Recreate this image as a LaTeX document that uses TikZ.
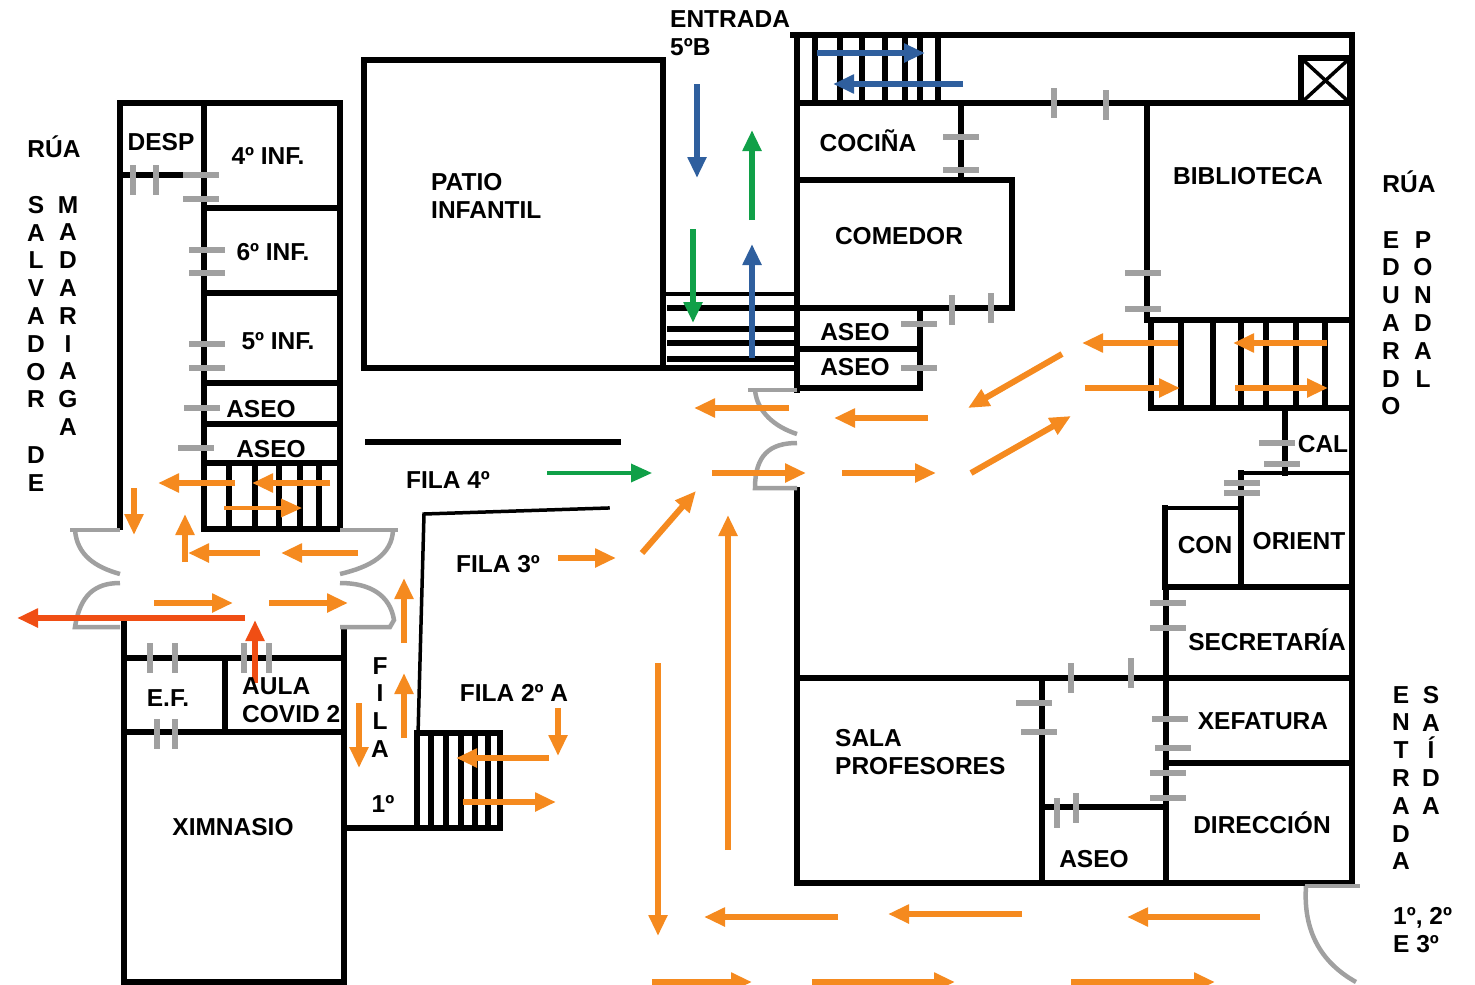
\documentclass[tikz,border=0pt]{standalone}
\usepackage{fontspec}
\setmainfont{Liberation Sans}
\usetikzlibrary{arrows.meta}
\definecolor{flowOrange}{HTML}{F58A1F}
\definecolor{flowRed}{HTML}{F04E14}
\definecolor{flowBlue}{HTML}{2F5F9E}
\definecolor{flowGreen}{HTML}{10A048}
\definecolor{doorGray}{HTML}{A0A0A0}
\tikzset{
x=1pt, y=-1pt, % one unit is one pixel of the plan
wall/.style={line width=5.5pt, line cap=rect}, % sets the main walls
thinwall/.style={line width=3.5pt, line cap=rect}, % sets the lighter walls and stair bars
stub/.style={line width=6pt, doorGray}, % sets the short door marks
swing/.style={line width=4.5pt, doorGray}, % sets the curved door leaves
flow/.style={line width=6pt, flowOrange, -{Triangle[length=21pt,width=18pt]}}, % sets the route arrows
flowthin/.style={flow, line width=3.5pt},
room/.style={font=\bfseries\fontsize{24.5}{28}\selectfont, inner sep=0pt, align=center},
roomleft/.style={room, align=left, anchor=west},
column/.style={font=\bfseries\fontsize{24.5}{27.8}\selectfont, inner sep=0pt, align=center, anchor=north},
}
\begin{document}
\begin{tikzpicture}
    \useasboundingbox (0,0) rectangle (1475,985);

    % left block
    \draw[wall] (120,527) -- (120,103) -- (340,103) -- (340,529);
    \draw[wall] (204,103) -- (204,529) -- (340,529);
    \draw[wall] (120,175) -- (204,175);
    \foreach \y in {208,293,383,424,463}
        \draw[wall] (204,\y) -- (340,\y);
    \foreach \x in {229,255,279,300,319}
        \draw[wall] (\x,463) -- (\x,529);

    % lower left block
    \draw[wall] (124,622) -- (124,982) -- (344,982) -- (344,632);
    \draw[wall] (124,658) -- (344,658);
    \draw[wall] (124,732) -- (344,732);
    \draw[wall] (225,658) -- (225,732);
    \draw[wall] (344,828) -- (417,828);
    \draw[wall] (417,733) -- (500,733) -- (500,828) -- (417,828) -- cycle;
    \foreach \x in {431,446,461,475,488}
        \draw[wall] (\x,733) -- (\x,828);
    \draw[thinwall] (608,508) -- (424,514) -- (418,735);
    \draw[wall] (368,442) -- (618,442);

    % patio and central stairs
    \draw[wall] (364,60) rectangle (663,368);
    \draw[wall] (663,368) -- (797,368);
    \draw[thinwall] (663,294) -- (797,294);
    \foreach \y in {308,343}
        \draw[wall] (670,\y) -- (797,\y);
    \foreach \y in {329,359}
        \draw[wall] (670,\y) -- (797,\y);

    % top right block
    \draw[wall] (793,35) -- (1352,35) -- (1352,883);
    \draw[wall] (797,35) -- (797,390);
    \draw[wall] (797,103) -- (1352,103);
    \foreach \x in {815,840,862,885,905,920,938}
        \draw[wall] (\x,38) -- (\x,103);
    \draw[wall] (1301,58) rectangle (1350,103);
    \draw[thinwall] (1301,58) -- (1350,103);
    \draw[thinwall] (1350,58) -- (1301,103);
    \draw[wall] (961,103) -- (961,180);
    \draw[wall] (797,180) -- (1012,180) -- (1012,308) -- (797,308);
    \draw[wall] (920,308) -- (920,388) -- (797,388);
    \draw[wall] (797,349) -- (920,349);

    % right stairs and small rooms
    \draw[wall] (1147,103) -- (1147,320) -- (1352,320);
    \draw[wall] (1151,320) -- (1151,408) -- (1352,408);
    \foreach \x in {1181,1213,1241,1266,1296,1325}
        \draw[wall] (\x,320) -- (\x,408);
    \draw[wall] (1285,408) -- (1285,473);
    \draw[thinwall] (1241,473) -- (1352,473);
    \draw[wall] (1241,473) -- (1241,587);
    \draw[thinwall] (1165,508) -- (1241,508);
    \draw[wall] (1165,508) -- (1165,587) -- (1352,587);

    % bottom right block
    \draw[wall] (797,490) -- (797,883) -- (1352,883);
    \draw[wall] (797,678) -- (1352,678);
    \draw[wall] (1042,678) -- (1042,883);
    \draw[wall] (1166,587) -- (1166,883);
    \draw[wall] (1042,807) -- (1166,807);
    \draw[wall] (1166,763) -- (1352,763);

    % door marks
    \foreach \x/\y in {201/175,201/199,207/250,207/273,207/344,207/368,202/408,196/448,
        961/137,961/170,919/324,919/368,1143/273,1143/309,1277/443,1282/464,1242/483,1242/493,
        1168/603,1168/628,1170/719,1173/748,1168/773,1168/798,1034/703,1039/732}
        \draw[stub] (\x-18,\y) -- (\x+18,\y);
    \foreach \x/\y in {133/180,156/180,150/658,175/658,244/658,269/658,157/734,175/734,
        952/310,991/308,1054/103,1106/105,1071/678,1131/673,1057/813,1076/808}
        \draw[stub] (\x,\y-15) -- (\x,\y+15);

    % door leaves
    \draw[swing] (120,530) -- (70,530);
    \draw[swing] (75,530) .. controls (77,555) and (95,567) .. (120,574);
    \draw[swing] (120,583) .. controls (95,583) and (80,595) .. (75,627) -- (120,627);
    \draw[swing] (340,530) -- (398,530);
    \draw[swing] (393,530) .. controls (392,555) and (370,567) .. (340,574);
    \draw[swing] (340,583) .. controls (370,583) and (390,595) .. (394,620) -- (390,627) -- (340,627);
    \draw[swing] (748,390) -- (797,390);
    \draw[swing] (755,390) .. controls (757,412) and (775,427) .. (797,434);
    \draw[swing] (797,443) .. controls (770,443) and (755,455) .. (755,488) -- (797,488);
    \draw[swing] (1305,886) -- (1360,886);
    \draw[swing] (1306,886) .. controls (1303,930) and (1320,962) .. (1356,982);

    % route arrows
    \foreach \a/\b/\c/\d in {235/483/158/483,330/483/252/483,134/488/134/535,185/562/185/514,
        260/553/188/553,358/553/281/553,154/603/233/603,269/603/348/603,
        404/643/404/578,404/738/404/673,359/703/359/768,558/708/558/756,549/758/456/758,
        463/802/556/802,558/558/616/558,642/553/696/491,712/473/806/473,842/473/936/473,
        789/408/694/408,928/418/834/418,1062/354/968/408,971/473/1071/416,
        1178/343/1082/343,1085/388/1180/388,1327/343/1233/343,1235/388/1328/388,
        728/850/728/515,658/663/658/936,838/917/704/917,1022/914/888/914,1260/917/1127/917,
        652/982/752/982,812/982/955/982,1071/982/1215/982}
        \draw[flow] (\a,\b) -- (\c,\d);
    \draw[flowthin] (224,508) -- (302,508);
    \draw[flow, flowRed] (245,618) -- (17,618);
    \draw[flow, flowRed] (255,683) -- (255,620);
    \foreach \a/\b/\c/\d in {817/53/925/53,963/84/833/84,697/84/697/178,752/358/752/244}
        \draw[flow, flowBlue] (\a,\b) -- (\c,\d);
    \foreach \a/\b/\c/\d in {752/220/752/130,693/229/693/323}
        \draw[flow, flowGreen] (\a,\b) -- (\c,\d);
    \draw[flowthin, flowGreen] (547,473) -- (652,473);

    % streets and entrances
    \node[roomleft] (entrada) at (670,33) {ENTRADA\\5ºB};
    \node[room] (ruaLeft) at (54,147) {RÚA};
    \node[column] (salvador) at (36,196) {S\\A\\L\\V\\A\\D\\O\\R\\~\\D\\E};
    \node[column] (madariaga) at (68,196) {M\\A\\D\\A\\R\\I\\A\\G\\A};
    \node[room] (ruaRight) at (1409,182) {RÚA};
    \node[column] (eduardo) at (1391,231) {E\\D\\U\\A\\R\\D\\O};
    \node[column] (pondal) at (1423,231) {P\\O\\N\\D\\A\\L};
    \node[column] (entradaCol) at (1401,686) {E\\N\\T\\R\\A\\D\\A};
    \node[column] (saida) at (1431,686) {S\\A\\Í\\D\\A};
    \node[roomleft] (cursos) at (1393,930) {1º, 2º\\E 3º};

    % rooms
    \node[room] (desp) at (161,142) {DESP};
    \node[room] (inf4) at (268,156) {4º INF.};
    \node[room] (inf6) at (273,252) {6º INF.};
    \node[room] (inf5) at (278,341) {5º INF.};
    \node[room] (aseoA) at (261,409) {ASEO};
    \node[room] (aseoB) at (271,449) {ASEO};
    \node[room] (ef) at (168,698) {E.F.};
    \node[roomleft] (aula) at (242,700) {AULA\\COVID 2};
    \node[room] (ximnasio) at (233,827) {XIMNASIO};
    \node[roomleft] (patio) at (431,196) {PATIO\\INFANTIL};
    \node[room] (cocina) at (868,141) {COCIÑA};
    \node[room] (comedor) at (899,236) {COMEDOR};
    \node[room] (aseoC) at (855,332) {ASEO};
    \node[room] (aseoD) at (855,367) {ASEO};
    \node[room] (biblioteca) at (1248,176) {BIBLIOTECA};
    \node[room] (cal) at (1323,444) {CAL};
    \node[room] (con) at (1205,545) {CON};
    \node[room] (orient) at (1299,541) {ORIENT};
    \node[room] (secretaria) at (1267,640) {SECRETARÍA};
    \node[room] (xefatura) at (1263,721) {XEFATURA};
    \node[room] (direccion) at (1262,823) {DIRECCIÓN};
    \node[room] (aseoE) at (1094,859) {ASEO};
    \node[roomleft] (sala) at (835,752) {SALA\\PROFESORES};

    % queues
    \node[room] (fila4) at (448,480) {FILA 4º};
    \node[room] (fila3) at (498,564) {FILA 3º};
    \node[room] (fila2) at (514,693) {FILA 2º A};
    \node[column] (fila1) at (380,657) {F\\I\\L\\A};
    \node[room] (uno) at (383,804) {1º};
\end{tikzpicture}
\end{document}
